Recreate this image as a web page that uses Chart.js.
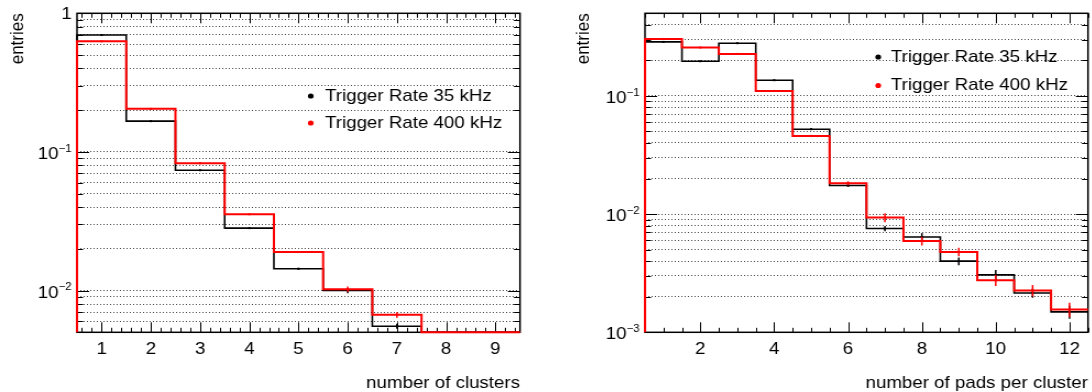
<!DOCTYPE html>
<html>
<head>
<meta charset="utf-8">
<script src="https://cdn.jsdelivr.net/npm/chart.js@4.4.1/dist/chart.umd.min.js"></script>
<style>
  body { margin: 0; background: #fff; width: 1092px; height: 392px; overflow: hidden; position: relative; }
  /* the reference is slightly stretched horizontally, so each panel is too */
  .panel { position: absolute; top: 0; width: 496px; height: 392px; transform: scaleX(1.1); transform-origin: 0 0; }
</style>
</head>
<body>
<div class="panel" style="left:0"><canvas id="clusters" width="496" height="392"></canvas></div>
<div class="panel" style="left:546px"><canvas id="pads" width="496" height="392"></canvas></div>
<script>
const FONT = 'Liberation Sans, Arial, Helvetica, sans-serif';
const seriesNames = ['Trigger Rate 35 kHz', 'Trigger Rate 400 kHz'];

// left panel: number of clusters
const clusterBins = [1, 2, 3, 4, 5, 6, 7, 8, 9];
const clusters35 = [0.697, 0.1667, 0.0738, 0.0282, 0.01437, 0.0100, 0.00553, 0, 0];
const clusters35Err = [0.002, 0.0008, 0.0004, 0.0002, 0.0002, 0.00045, 0.00023, 0, 0];
const clusters400 = [0.628, 0.2045, 0.0828, 0.0355, 0.01896, 0.01023, 0.00668, 0, 0];
const clusters400Err = [0.002, 0.001, 0.0004, 0.0002, 0.0003, 0.00046, 0.0003, 0, 0];
const clusterXTicks = [1, 2, 3, 4, 5, 6, 7, 8, 9];
const clusterDecades = [0, -1, -2];

// right panel: number of pads per cluster
const padBins = [1, 2, 3, 4, 5, 6, 7, 8, 9, 10, 11, 12];
const pads35 = [0.2864, 0.1966, 0.2793, 0.1358, 0.0523, 0.01745, 0.00755, 0.00641, 0.0040, 0.00306, 0.00215, 0.00149];
const pads35Err = [0.002, 0.0015, 0.002, 0.0012, 0.0006, 0.0004, 0.00038, 0.0005, 0.0003, 0.0003, 0.00019, 0.00019];
const pads400 = [0.3034, 0.2568, 0.2266, 0.1102, 0.0459, 0.01824, 0.00935, 0.00593, 0.00479, 0.00276, 0.00226, 0.00156];
const pads400Err = [0.002, 0.002, 0.0015, 0.001, 0.0005, 0.0007, 0.0008, 0.0005, 0.0004, 0.0003, 0.00025, 0.00022];
const padXTicks = [2, 4, 6, 8, 10, 12];
const padDecades = [-1, -2, -3];

// grid values 1..9 x 10^n inside [lo, hi]
function logGrid(lo, hi) {
  const out = [];
  for (let e = Math.floor(Math.log10(lo)); e <= Math.ceil(Math.log10(hi)); e++) {
    for (let m = 1; m <= 9; m++) {
      const v = +(m * Math.pow(10, e)).toPrecision(6);
      if (v >= lo * 0.9999 && v <= hi * 1.0001) out.push(v);
    }
  }
  return out;
}

// step outline of a histogram, starting from the axis floor
function histPoints(centers, values, yMin) {
  const pts = [{ x: centers[0] - 0.5, y: yMin }];
  centers.forEach((c, i) => pts.push({ x: c - 0.5, y: Math.max(values[i], yMin) }));
  pts.push({ x: centers[centers.length - 1] + 0.5, y: Math.max(values[values.length - 1], yMin) });
  return pts;
}

function histDataset(label, centers, values, errors, color, width, order, yMin) {
  return {
    label: label,
    data: histPoints(centers, values, yMin),
    centers: centers,
    values: values,
    errors: errors,
    borderColor: color,
    backgroundColor: color,
    borderWidth: width,
    stepped: 'before',
    pointRadius: 0,
    fill: false,
    clip: 4,
    order: order,
  };
}

// ROOT style frame, inner ticks and y labels 10^n
const rootFrame = {
  id: 'rootFrame',
  beforeDatasetsDraw(chart, args, o) {
    const { ctx, chartArea: a, scales: { x, y } } = chart;
    ctx.save();
    ctx.strokeStyle = '#000';
    ctx.lineWidth = 1;
    ctx.beginPath();
    const k0 = Math.ceil(x.min / o.xMinor - 1e-6);
    const k1 = Math.floor(x.max / o.xMinor + 1e-6);
    for (let k = k0; k <= k1; k++) {
      const v = k * o.xMinor;
      const px = Math.round(x.getPixelForValue(v)) + 0.5;
      const len = o.xMajor.some(t => Math.abs(t - v) < 1e-6) ? 10 : 4.5;
      ctx.moveTo(px, a.bottom); ctx.lineTo(px, a.bottom - len);
      ctx.moveTo(px, a.top); ctx.lineTo(px, a.top + len);
    }
    y.ticks.forEach(t => {
      const py = Math.round(y.getPixelForValue(t.value)) + 0.5;
      const lg = Math.log10(t.value);
      const len = Math.abs(lg - Math.round(lg)) < 1e-6 ? 11 : 5.5;
      ctx.moveTo(a.left, py); ctx.lineTo(a.left + len, py);
      ctx.moveTo(a.right, py); ctx.lineTo(a.right - len, py);
    });
    ctx.stroke();
    ctx.lineWidth = 1.5;
    ctx.strokeRect(a.left, a.top, a.right - a.left, a.bottom - a.top);

    ctx.fillStyle = '#000';
    ctx.textBaseline = 'middle';
    ctx.textAlign = 'right';
    const xr = a.left - 4.8;
    o.decades.forEach(e => {
      const py = y.getPixelForValue(Math.pow(10, e));
      if (e === 0) {
        ctx.font = `17px ${FONT}`;
        ctx.fillText('1', xr, py + 0.7);
        return;
      }
      const sup = '\u2212' + (-e);
      ctx.font = `10.5px ${FONT}`;
      const ws = ctx.measureText(sup).width;
      ctx.fillText(sup, xr, py - 3);
      ctx.font = `17px ${FONT}`;
      ctx.fillText('10', xr - ws, py + 2.5);
    });
    ctx.restore();
  }
};

// vertical error bars at bin centres
const rootErrors = {
  id: 'rootErrors',
  afterDatasetsDraw(chart) {
    const { ctx, scales: { x, y } } = chart;
    ctx.save();
    chart.data.datasets.forEach(ds => {
      ctx.strokeStyle = ds.borderColor;
      ctx.fillStyle = ds.borderColor;
      ctx.lineWidth = 1.5;
      ds.centers.forEach((c, i) => {
        const v = ds.values[i];
        if (!(v > 0)) return;
        const e = ds.errors[i];
        const px = x.getPixelForValue(c);
        const lo = Math.max(v - e, y.min);
        ctx.beginPath();
        ctx.moveTo(px, y.getPixelForValue(lo));
        ctx.lineTo(px, y.getPixelForValue(v + e));
        ctx.stroke();
        ctx.fillRect(px - 1, y.getPixelForValue(v) - 1, 2, 2);
      });
    });
    ctx.restore();
  }
};

// legend without box, drawn inside the frame
const rootLegend = {
  id: 'rootLegend',
  afterDatasetsDraw(chart, args, o) {
    const { ctx, chartArea: a } = chart;
    ctx.save();
    ctx.font = `17px ${FONT}`;
    ctx.textBaseline = 'middle';
    ctx.textAlign = 'left';
    chart.data.datasets.forEach((ds, i) => {
      const py = a.top + o.top + i * o.gap;
      ctx.fillStyle = ds.borderColor;
      ctx.beginPath();
      ctx.arc(a.left + o.dot, py, 2.6, 0, Math.PI * 2);
      ctx.fill();
      ctx.fillStyle = '#000';
      ctx.fillText(ds.label, a.left + o.text, py);
    });
    ctx.restore();
  }
};

function drawPanel(id, cfg) {
  const font = { family: FONT, size: 17, lineHeight: 1 };
  return new Chart(document.getElementById(id), {
    type: 'line',
    data: {
      datasets: [
        histDataset(seriesNames[0], cfg.bins, cfg.v35, cfg.e35, '#000000', 1.6, 1, cfg.yMin),
        histDataset(seriesNames[1], cfg.bins, cfg.v400, cfg.e400, '#ff0000', 2, 0, cfg.yMin),
      ],
    },
    plugins: [rootFrame, rootErrors, rootLegend],
    options: {
      responsive: false,
      maintainAspectRatio: false,
      animation: false,
      devicePixelRatio: 1,
      events: [],
      layout: { padding: { left: 0, right: cfg.padRight, top: 13.3, bottom: 0 } },
      plugins: {
        legend: { display: false },
        tooltip: { enabled: false },
        rootFrame: { xMinor: cfg.xMinor, xMajor: cfg.xTicks, decades: cfg.decades },
        rootLegend: cfg.legend,
      },
      scales: {
        x: {
          type: 'linear',
          min: cfg.bins[0] - 0.5,
          max: cfg.bins[cfg.bins.length - 1] + 0.5,
          afterBuildTicks: s => { s.ticks = cfg.xTicks.map(v => ({ value: v })); },
          afterFit: s => { s.height = 59.7; },
          grid: { display: false },
          border: { display: false },
          ticks: {
            font: font, color: '#000', padding: 1,
            autoSkip: false, maxRotation: 0,
            callback: v => String(v),
          },
          title: {
            display: true, text: cfg.xTitle, align: 'end',
            font: font, color: '#000', padding: { top: 5, bottom: 0 },
          },
        },
        y: {
          type: 'logarithmic',
          min: cfg.yMin,
          max: cfg.yMax,
          afterBuildTicks: s => { s.ticks = logGrid(cfg.yMin, cfg.yMax).map(v => ({ value: v })); },
          afterFit: s => { s.width = cfg.yWidth; },
          grid: { color: '#444', lineWidth: 1, drawTicks: false, borderDash: [1, 2] },
          border: { display: false, dash: [1, 2] },
          ticks: { display: false },
          title: {
            display: true, text: 'entries', align: 'end',
            font: font, color: '#000', padding: { top: cfg.yTitlePad, bottom: 0 },
          },
        },
      },
    },
  });
}

drawPanel('clusters', {
  bins: clusterBins, v35: clusters35, e35: clusters35Err, v400: clusters400, e400: clusters400Err,
  xTicks: clusterXTicks, xMinor: 0.2, decades: clusterDecades,
  yMin: 0.005, yMax: 1, yWidth: 70, padRight: 23.3, yTitlePad: 8,
  xTitle: 'number of clusters',
  legend: { dot: 212.5, text: 225.5, top: 82.7, gap: 27 },
});

drawPanel('pads', {
  bins: padBins, v35: pads35, e35: pads35Err, v400: pads400, e400: pads400Err,
  xTicks: padXTicks, xMinor: 0.5, decades: padDecades,
  yMin: 0.001, yMax: 0.5, yWidth: 90, padRight: 3.3, yTitlePad: 26,
  xTitle: 'number of pads per cluster',
  legend: { dot: 212, text: 223.5, top: 43.7, gap: 28.5 },
});
</script>
</body>
</html>
